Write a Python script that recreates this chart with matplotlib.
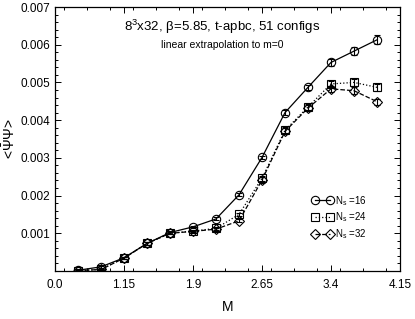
import matplotlib
matplotlib.use("Agg")
import matplotlib.pyplot as plt
from matplotlib.ticker import MultipleLocator, FixedLocator
from matplotlib.lines import Line2D

plt.rcParams['font.family'] = ['Liberation Sans', 'DejaVu Sans']
plt.rcParams['mathtext.fontset'] = 'custom'
plt.rcParams['mathtext.rm'] = 'Liberation Sans'
plt.rcParams['mathtext.it'] = 'Liberation Sans:italic'

M = [0.65, 0.9, 1.15, 1.4, 1.65, 1.9, 2.15, 2.4, 2.65, 2.9, 3.15, 3.4, 3.65, 3.9]
ns16 = [0.00002, 0.00011, 0.00035, 0.00073, 0.00102, 0.00117, 0.00138, 0.00202,
        0.00301, 0.00420, 0.00487, 0.00553, 0.00583, 0.00613]
ns16_err = [0.00002, 0.00002, 0.00003, 0.00003, 0.00003, 0.00003, 0.00004, 0.00004,
            0.00005, 0.00006, 0.00006, 0.00009, 0.00010, 0.00012]
ns24 = [0.00001, 0.00004, 0.00035, 0.00073, 0.00100, 0.00106, 0.00113, 0.00150,
        0.00246, 0.00373, 0.00435, 0.00496, 0.00500, 0.00487]
ns24_err = [0.00002, 0.00002, 0.00003, 0.00003, 0.00003, 0.00003, 0.00004, 0.00005,
            0.00007, 0.00008, 0.00007, 0.00008, 0.00010, 0.00010]
ns32 = [0.00001, 0.00004, 0.00034, 0.00073, 0.00100, 0.00105, 0.00111, 0.00133,
        0.00241, 0.00370, 0.00432, 0.00483, 0.00478, 0.00449]
ns32_err = [0.00002, 0.00002, 0.00003, 0.00003, 0.00003, 0.00003, 0.00004, 0.00004,
            0.00007, 0.00008, 0.00007, 0.00008, 0.00010, 0.00008]

xticks = [0.4, 1.15, 1.9, 2.65, 3.4, 4.15]
xticklabels = ["0.0", "1.15", "1.9", "2.65", "3.4", "4.15"]
yticks = [0.001, 0.002, 0.003, 0.004, 0.005, 0.006, 0.007]
yticklabels = ["0.001", "0.002", "0.003", "0.004", "0.005", "0.006", "0.007"]
labels = [r'N$_{\rm s}$ =16', r'N$_{\rm s}$ =24', r'N$_{\rm s}$ =32']

fig = plt.figure(figsize=(4.15, 3.19), dpi=100)
ax = fig.add_axes([55/415, 1-271/319, 345/415, 264/319])

common = dict(color='black', mfc='none', mec='black', ms=6, mew=0.8, lw=0.9,
              capsize=2.5, elinewidth=0.8, capthick=0.8)
series = [(ns16, ns16_err, 'o', '-', 6), (ns24, ns24_err, 's', ':', 6), (ns32, ns32_err, 'D', '--', 5)]
handles = []
for (vals, errs, mk, ls, ms), lab in zip(series, labels):
    ax.errorbar(M, vals, yerr=errs, marker=mk, ls=ls, **{**common, 'ms': ms})
    handles.append(Line2D([], [], color='black', marker=mk, ls=ls, mfc='none', mec='black',
                          ms=ms, mew=0.8, lw=0.9))

ax.set_xlim(0.4, 4.15)
ax.set_ylim(0, 0.007)
ax.xaxis.set_major_locator(FixedLocator(xticks))
ax.set_xticklabels(xticklabels)
ax.xaxis.set_minor_locator(MultipleLocator(0.25))
ax.yaxis.set_major_locator(FixedLocator(yticks))
ax.set_yticklabels(yticklabels)
ax.yaxis.set_minor_locator(MultipleLocator(0.0002))
ax.tick_params(which='both', direction='in', top=True, right=True, labelsize=8.5, width=0.7)
ax.tick_params(which='major', length=4)
ax.tick_params(which='minor', length=2.5)
ax.tick_params(axis='x', pad=6)
for s in ax.spines.values():
    s.set_linewidth(0.9)

ax.set_xlabel('M', fontsize=10, labelpad=6)
ax.set_ylabel(r'<$\bar{\Psi}\Psi$>', fontsize=10, labelpad=2)

ax.text(0.485, 0.925, r'8$^{3}$x32, β=5.85, t-apbc, 51 configs', transform=ax.transAxes,
        ha='center', va='center', fontsize=9.5)
ax.text(0.485, 0.855, 'linear extrapolation to m=0', transform=ax.transAxes,
        ha='center', va='center', fontsize=7.5)

ax.legend(handles, labels, loc='lower right', bbox_to_anchor=(0.93, 0.08), frameon=False,
          fontsize=7, numpoints=2, handlelength=2.2, handletextpad=0.2, labelspacing=0.3)

fig.savefig('out.png', dpi=100)
